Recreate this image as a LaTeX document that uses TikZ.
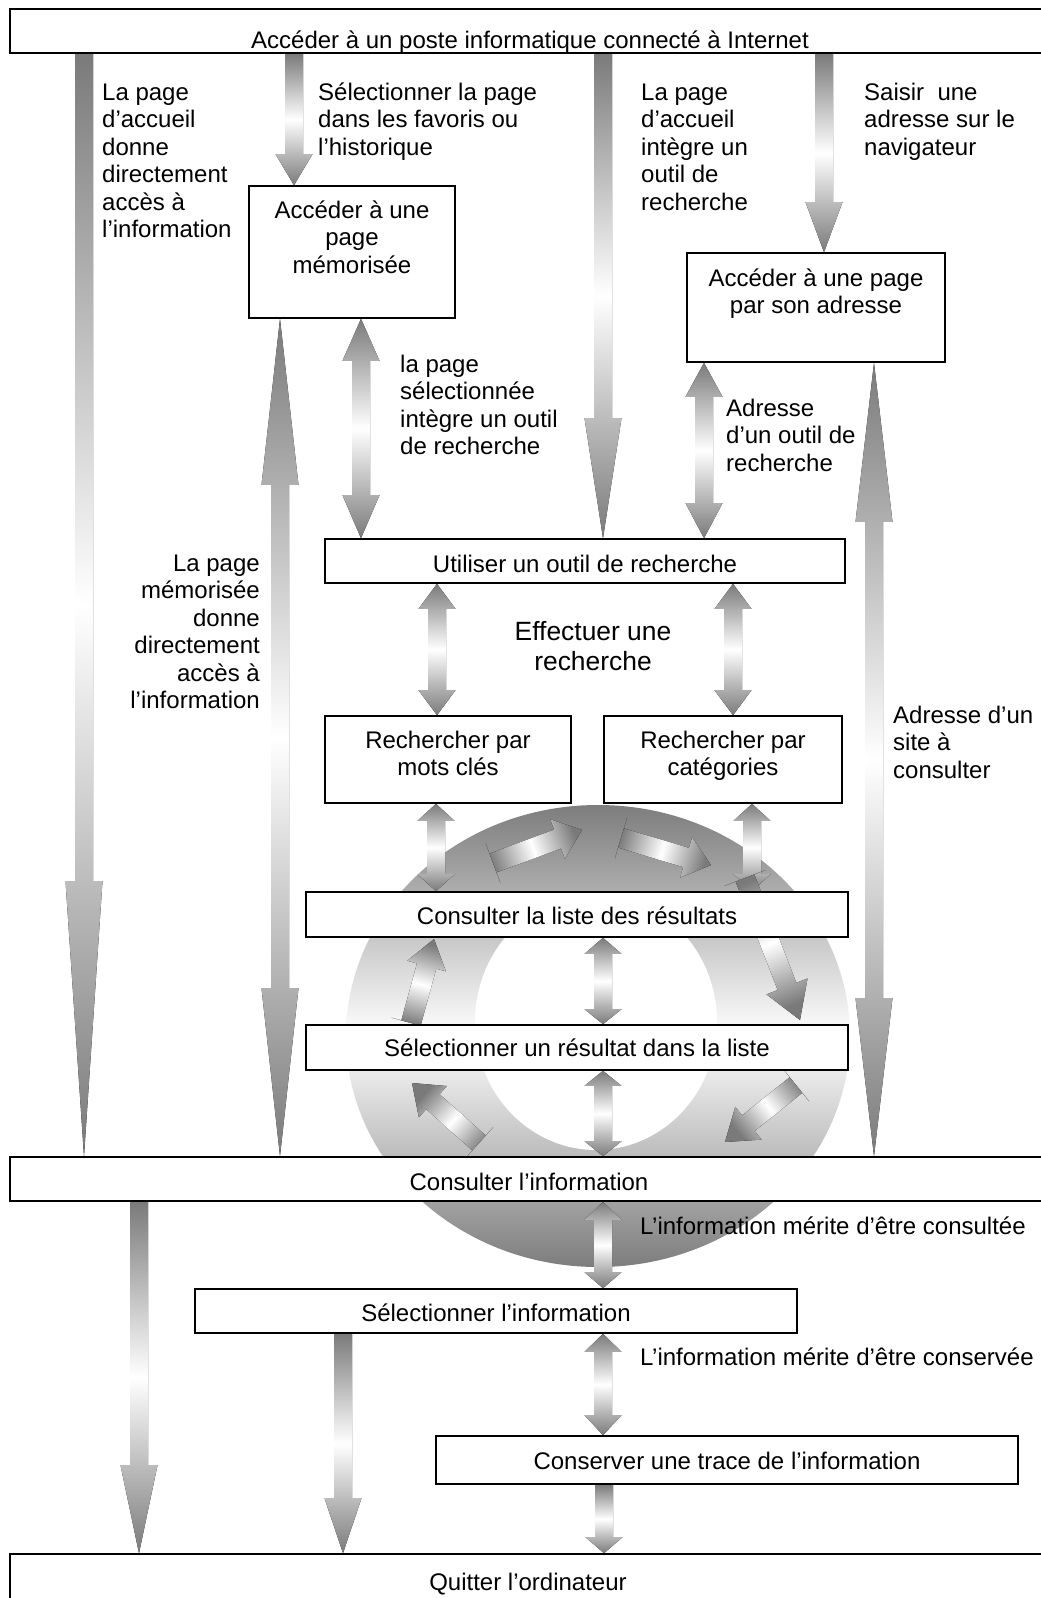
\documentclass[tikz,border=0pt]{standalone}
\usepackage{fontspec}
\setmainfont{Liberation Sans}
\usetikzlibrary{calc}
\pgfdeclarelayer{ringlayer}
\pgfdeclarelayer{arrowlayer}
\pgfsetlayers{ringlayer,arrowlayer,main}
\definecolor{agray}{gray}{0.48}
\definecolor{rgray}{gray}{0.49}
\tikzset{
  every node/.style={font=\fontsize{24}{27.5}\selectfont, inner sep=0pt},
  box/.style={draw=black, line width=1.6pt, fill=white, anchor=base, align=center},
  lbl/.style={anchor=base west, align=left},
  lblr/.style={anchor=base east, align=right},
  arrowfill/.style={top color=agray, bottom color=agray, middle color=white},
  ba sw/.store in=\basw, ba hw/.store in=\bahw, ba ang/.store in=\baang,
  ba sw=9pt, ba hw=18.5pt, ba ang=0,
}
% #1 options, #2 start, #3 end, #4 head length at start, #5 head length at end
\newcommand{\blockarrow}[5][]{%
  \begin{scope}[#1]
  \coordinate (bas) at (#2);
  \coordinate (bae) at (#3);
  \coordinate (bab) at ($(bas)!#4!(bae)$);
  \coordinate (bac) at ($(bae)!#5!(bas)$);
  \fill[arrowfill, shading angle=\baang]
    (bas) -- ($(bab)!\bahw!90:(bae)$) -- ($(bab)!\basw!90:(bae)$)
    -- ($(bac)!\basw!-90:(bas)$) -- ($(bac)!\bahw!-90:(bas)$) -- (bae)
    -- ($(bac)!\bahw!90:(bas)$) -- ($(bac)!\basw!90:(bas)$)
    -- ($(bab)!\basw!-90:(bae)$) -- ($(bab)!\bahw!-90:(bae)$) -- cycle;
  \end{scope}}
\begin{document}
\begin{tikzpicture}[x=1pt,y=-1pt]
\useasboundingbox (0,0) rectangle (1041,1598);
\clip (0,0) rectangle (1041,1598);

% ---------- boxes (base = baseline of the last text line) ----------
\node[box, text height=39pt, text depth=5pt, minimum width=1040pt] (top) at (530,48) {Accéder à un poste informatique connecté à Internet};
\node[box, text height=87pt, text depth=45pt, minimum width=206pt] (mem) at (352,273) {Accéder à une\\page\\mémorisée};
\node[box, text height=60.5pt, text depth=48.5pt, minimum width=258pt] (addr) at (816,313.5) {Accéder à une page\\par son adresse};
\node[box, text height=33pt, text depth=11pt, minimum width=520pt] (util) at (585,572) {Utiliser un outil de recherche};
\node[box, text height=59.5pt, text depth=27.5pt, minimum width=246pt] (motcles) at (448,775.5) {Rechercher par\\mots clés};
\node[box, text height=59.5pt, text depth=27.5pt, minimum width=238pt] (categ) at (723,775.5) {Rechercher par\\catégories};
\node[box, text height=32pt, text depth=13pt, minimum width=542pt] (liste) at (577,924) {Consulter la liste des résultats};
\node[box, text height=31pt, text depth=14pt, minimum width=542pt] (selres) at (577,1056) {Sélectionner un résultat dans la liste};
\node[box, text height=33pt, text depth=11pt, minimum width=1038pt] (consult) at (529,1190) {Consulter l’information};
\node[box, text height=32pt, text depth=12pt, minimum width=602pt] (selinfo) at (496,1321) {Sélectionner l’information};
\node[box, text height=33pt, text depth=15pt, minimum width=582pt] (trace) at (727,1469) {Conserver une trace de l’information};
\node[box, text height=36pt, text depth=30pt, minimum width=1036pt] (quit) at (528,1590) {Quitter l’ordinateur};

% ---------- labels (base = baseline of the last line) ----------
\node[lbl] (lA) at (102,237.5) {La page\\d’accueil\\donne\\directement\\accès à\\l’information};
\node[lbl] (lB) at (318,155) {Sélectionner la page\\dans les favoris ou\\l’historique};
\node[lbl] (lC) at (641,210) {La page\\d’accueil\\intègre un\\outil de\\recherche};
\node[lbl] (lD) at (864,155) {Saisir\ \ une\\adresse sur le\\navigateur};
\node[lbl] (lF) at (400,454.5) {la page\\sélectionnée\\intègre un outil\\de recherche};
\node[lbl] (lE) at (726,471) {Adresse\\d’un outil de\\recherche};
\node[lblr] (lB2) at (260,708.5) {La page\\mémorisée\\donne\\directement\\accès à\\l’information};
\node[anchor=base, align=center, font=\fontsize{26.4}{30}\selectfont] (search) at (593,670) {Effectuer une\\recherche};
\node[lbl] (lG) at (893,778) {Adresse d’un\\site à\\consulter};
\node[lbl] (lN) at (640,1234) {L’information mérite d’être consultée};
\node[lbl] (lO) at (640,1365) {L’information mérite d’être conservée};

% ---------- column coordinates ----------
\coordinate (cA) at (84,0);
\coordinate (cB) at (294,0);
\coordinate (cC) at (603,0);
\coordinate (cD) at (824,0);
\coordinate (cB2) at (280,0);
\coordinate (cF) at (361,0);
\coordinate (cE) at (704,0);
\coordinate (cG) at (874,0);
\coordinate (cH) at (437,0);
\coordinate (cI) at (733,0);
\coordinate (cJ) at (436,0);
\coordinate (cK) at (752,0);
\coordinate (cM) at (603,0);
\coordinate (cP) at (604,0);
\coordinate (cQ) at (139,0);
\coordinate (cR) at (343,0);

% ring arrow end points
\coordinate (r1s) at (493,863); \coordinate (r1e) at (582,830);
\coordinate (r2s) at (621,838); \coordinate (r2e) at (711,865);
\coordinate (r3s) at (745,878); \coordinate (r3e) at (800,1020);
\coordinate (r4s) at (796,1085); \coordinate (r4e) at (725,1142);
\coordinate (r5s) at (479,1143); \coordinate (r5e) at (412,1083);
\coordinate (r6s) at (411,1023); \coordinate (r6e) at (434,939);

% ---------- ring ----------
\begin{pgfonlayer}{ringlayer}
  \fill[white] (0,0) rectangle (1041,1598);
  \shade[top color=rgray, bottom color=rgray, middle color=white] (598,1036) ellipse (252 and 231);
  \fill[white] (596,1022) ellipse (121 and 128);
\end{pgfonlayer}

% ---------- block arrows ----------
\begin{pgfonlayer}{arrowlayer}
  \blockarrow{cA |- top.south}{cA |- consult.north}{0pt}{275pt}
  \blockarrow{cB |- top.south}{cB |- mem.north}{0pt}{31pt}
  \blockarrow{cC |- top.south}{cC |- util.north}{0pt}{120pt}
  \blockarrow{cD |- top.south}{cD |- addr.north}{0pt}{50pt}
  \blockarrow{cB2 |- mem.south}{cB2 |- consult.north}{166pt}{168pt}
  \blockarrow{cF |- mem.south}{cF |- util.north}{42pt}{43pt}
  \blockarrow{cE |- addr.south}{cE |- util.north}{34pt}{35pt}
  \blockarrow{cG |- addr.south}{cG |- consult.north}{159pt}{158pt}
  \blockarrow{cH |- util.south}{cH |- motcles.north}{25pt}{25pt}
  \blockarrow{cI |- util.south}{cI |- categ.north}{25pt}{25pt}
  \blockarrow{cJ |- motcles.south}{cJ |- liste.north}{17pt}{17pt}
  \blockarrow{cK |- categ.south}{cK |- liste.north}{17pt}{17pt}
  \blockarrow{cM |- liste.south}{cM |- selres.north}{16pt}{15pt}
  \blockarrow{cM |- selres.south}{cM |- consult.north}{15pt}{15pt}
  \blockarrow{cM |- consult.south}{cM |- selinfo.north}{18pt}{16pt}
  \blockarrow{cM |- selinfo.south}{cM |- trace.north}{18pt}{20pt}
  \blockarrow{cP |- trace.south}{cP |- quit.north}{0pt}{16pt}
  \blockarrow{cQ |- consult.south}{cQ |- quit.north}{0pt}{88pt}
  \blockarrow{cR |- selinfo.south}{cR |- quit.north}{0pt}{55pt}
  % ring arrows
  \blockarrow[ba sw=10pt, ba hw=21pt, ba ang=-69.7]{r1s}{r1e}{0pt}{26pt}
  \blockarrow[ba sw=10pt, ba hw=21pt, ba ang=73.3]{r2s}{r2e}{0pt}{26pt}
  \blockarrow[ba sw=10pt, ba hw=22pt, ba ang=22.2]{r3s}{r3e}{0pt}{36pt}
  \blockarrow[ba sw=10pt, ba hw=21pt, ba ang=-51.2]{r4s}{r4e}{0pt}{30pt}
  \blockarrow[ba sw=10pt, ba hw=21pt, ba ang=48.2]{r5s}{r5e}{0pt}{28pt}
  \blockarrow[ba sw=10pt, ba hw=20pt, ba ang=-15.3]{r6s}{r6e}{0pt}{28pt}
\end{pgfonlayer}
\end{tikzpicture}
\end{document}
